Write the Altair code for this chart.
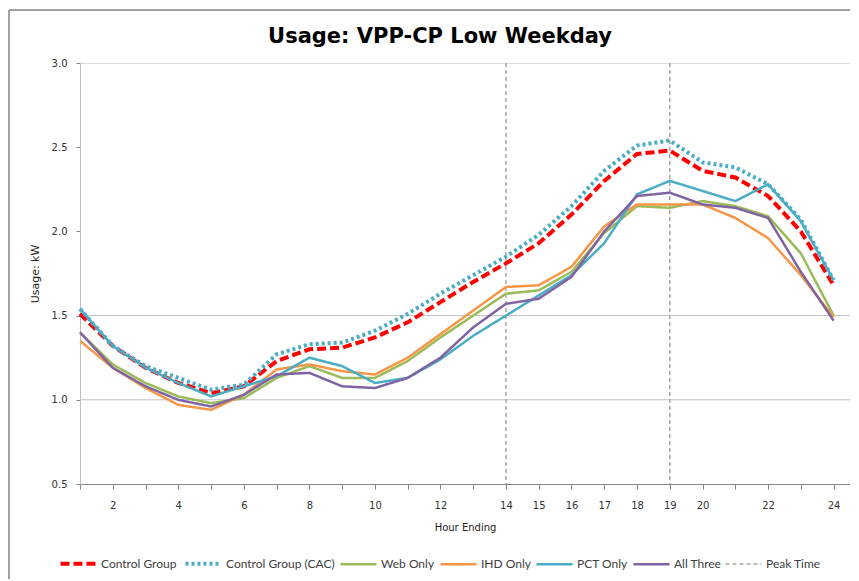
import altair as alt
import pandas as pd

hours = list(range(1, 25))
control = [1.51, 1.32, 1.19, 1.10, 1.04, 1.08, 1.23, 1.30, 1.31, 1.37, 1.46, 1.58,
           1.70, 1.81, 1.93, 2.10, 2.30, 2.46, 2.48, 2.36, 2.32, 2.21, 2.00, 1.68]
cac = [1.54, 1.32, 1.20, 1.13, 1.06, 1.09, 1.27, 1.33, 1.34, 1.41, 1.51, 1.63,
       1.74, 1.85, 1.98, 2.15, 2.36, 2.51, 2.54, 2.41, 2.38, 2.28, 2.07, 1.71]
web = [1.40, 1.21, 1.10, 1.02, 0.98, 1.01, 1.13, 1.20, 1.13, 1.13, 1.23, 1.37,
       1.50, 1.63, 1.65, 1.76, 1.99, 2.15, 2.14, 2.18, 2.15, 2.09, 1.87, 1.50]
ihd = [1.35, 1.19, 1.07, 0.97, 0.94, 1.03, 1.18, 1.21, 1.17, 1.15, 1.25, 1.39,
       1.53, 1.67, 1.68, 1.79, 2.03, 2.16, 2.16, 2.16, 2.08, 1.96, 1.74, 1.49]
pct = [1.54, 1.32, 1.19, 1.10, 1.02, 1.08, 1.14, 1.25, 1.20, 1.10, 1.13, 1.24,
       1.38, 1.50, 1.62, 1.74, 1.93, 2.22, 2.30, 2.24, 2.18, 2.28, 2.06, 1.71]
all_three = [1.40, 1.19, 1.08, 1.00, 0.96, 1.03, 1.15, 1.16, 1.08, 1.07, 1.13, 1.25,
             1.43, 1.57, 1.60, 1.73, 2.00, 2.21, 2.23, 2.16, 2.14, 2.08, 1.76, 1.47]
peak_hours = [14, 19]
grid_values = [1.0, 1.5]
x_labels = [2, 4, 6, 8, 10, 12, 14, 15, 16, 17, 18, 19, 20, 22, 24]
title_text = ["Usage: VPP-CP Low Weekday"]

series_names = ["Control Group", "Control Group (CAC)", "Web Only", "IHD Only",
                "PCT Only", "All Three", "Peak Time"]
series_colors = ["#FF0000", "#4BACC6", "#9BBB59", "#F79646", "#4BACC6", "#8064A2", "#A6A6A6"]
series_dash = [[9, 4], [3, 3], [1, 0], [1, 0], [1, 0], [1, 0], [4, 3]]
series_width = [4, 4, 2.5, 2.5, 2.5, 2.5, 1.5]

rows = []
for name, vals in zip(series_names[:6], [control, cac, web, ihd, pct, all_three]):
    for h, v in zip(hours, vals):
        rows.append({"hour": h, "usage": v, "series": name})
df = pd.DataFrame(rows)
peak_df = pd.DataFrame({"hour": peak_hours, "series": ["Peak Time"] * len(peak_hours)})
grid_df = pd.DataFrame({"y": grid_values})
title_df = pd.DataFrame({"t": title_text})

label_test = " || ".join(f"datum.value == {v}" for v in x_labels)

x_scale = alt.Scale(domain=[1, 24.5], nice=False, zero=False)
y_scale = alt.Scale(domain=[0.5, 3.0], nice=False, zero=False)

x_axis = alt.Axis(values=hours, tickCount=24,
                  labelExpr=f"({label_test}) ? datum.label : ''",
                  labelOverlap=False, labelFlush=False, labelBound=False,
                  grid=False, tickSize=5, tickColor="#868686", domainColor="#868686",
                  labelFont="DejaVu Sans", labelFontSize=10, labelColor="#333333",
                  labelPadding=11, titleFont="DejaVu Sans", titleFontSize=10,
                  titleFontWeight="normal", titleColor="#222222", titlePadding=12)
y_axis = alt.Axis(values=[0.5, 1.0, 1.5, 2.0, 2.5, 3.0], format=".1f", grid=False,
                  labelOverlap=False,
                  tickSize=4, tickColor="#868686", domainColor="#BFBFBF",
                  labelFont="DejaVu Sans", labelFontSize=10, labelColor="#333333",
                  labelPadding=9, titleFont="DejaVu Sans", titleFontSize=11,
                  titleFontWeight="normal", titleColor="#222222", titlePadding=11)


def leg():
    return alt.Legend(title=None, orient="none", direction="horizontal",
                      columns=7, legendX=-22, legendY=480,
                      symbolType="stroke", symbolSize=1300,
                      labelFont="Lato", labelFontSize=12, labelColor="#404040",
                      labelOffset=2, columnPadding=0, gridAlign="each")


color = alt.Color("series:N", scale=alt.Scale(domain=series_names, range=series_colors),
                  legend=leg())
dash = alt.StrokeDash("series:N", scale=alt.Scale(domain=series_names, range=series_dash),
                      legend=leg())
width = alt.StrokeWidth("series:N",
                        scale=alt.Scale(type="ordinal", domain=series_names, range=series_width),
                        legend=leg())

grid = alt.Chart(grid_df).mark_rule(color="#BFBFBF", strokeWidth=1).encode(
    y=alt.Y("y:Q", scale=y_scale, axis=y_axis, title="Usage: kW")
)

peaks = alt.Chart(peak_df).mark_rule().encode(
    x=alt.X("hour:Q", scale=x_scale, axis=x_axis, title="Hour Ending"),
    color=color, strokeDash=dash, strokeWidth=width,
)

lines = alt.Chart(df).mark_line().encode(
    x=alt.X("hour:Q", scale=x_scale, title="Hour Ending", axis=x_axis),
    y=alt.Y("usage:Q", scale=y_scale, title="Usage: kW", axis=y_axis),
    color=color, strokeDash=dash, strokeWidth=width,
    order=alt.Order("hour:Q"),
)

title = alt.Chart(title_df).mark_text(font="DejaVu Sans", fontSize=21, fontWeight="bold",
                                      color="#000000", align="center", baseline="middle").encode(
    text="t:N", x=alt.value(360), y=alt.value(-26)
)

frame_left = alt.Chart(grid_df).mark_rule(color="#A0A0A0", strokeWidth=2).encode(
    x=alt.value(-71), y=alt.value(-53), y2=alt.value(520)
)
frame_top = alt.Chart(grid_df).mark_rule(color="#A0A0A0", strokeWidth=2).encode(
    x=alt.value(-71), x2=alt.value(790), y=alt.value(-53)
)

chart = alt.layer(grid, peaks, lines, title, frame_left, frame_top).properties(
    width=770, height=421,
    autosize=alt.AutoSizeParams(type="none"),
    padding={"left": 72, "top": 55, "right": 0, "bottom": 95},
).configure_view(stroke=None).configure_axis(labelOverlap=False).configure(background="white")

chart.save("out.html", embed_options={"renderer": "svg", "actions": False})
